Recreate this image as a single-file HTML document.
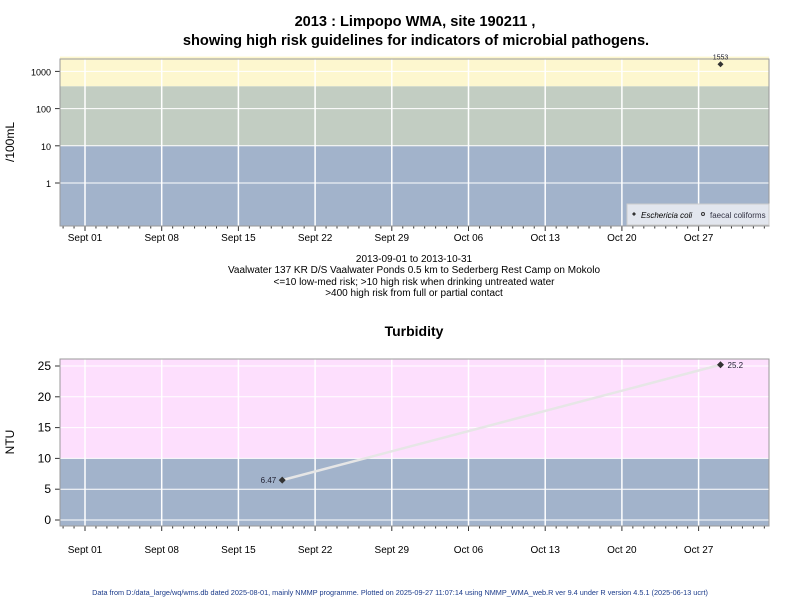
<!DOCTYPE html>
<html><head><meta charset="utf-8"><style>
body{margin:0;background:#fff;}
svg{display:block;font-family:"Liberation Sans",sans-serif;}
</style></head><body>
<svg id="c" width="800" height="600">
<text x="415" y="26" text-anchor="middle" font-size="14.6" font-weight="bold">2013 : Limpopo WMA, site 190211 ,</text>
<text x="416" y="45" text-anchor="middle" font-size="14.6" font-weight="bold">showing high risk guidelines for indicators of microbial pathogens.</text>
<text x="414" y="262" text-anchor="middle" font-size="10">2013-09-01 to 2013-10-31</text>
<text x="414" y="273" text-anchor="middle" font-size="10">Vaalwater 137 KR D/S Vaalwater Ponds 0.5 km to Sederberg Rest Camp on Mokolo</text>
<text x="414" y="285" text-anchor="middle" font-size="10">&lt;=10 low-med risk; &gt;10 high risk when drinking untreated water</text>
<text x="414" y="296" text-anchor="middle" font-size="10">&gt;400 high risk from full or partial contact</text>
<text x="414" y="336" text-anchor="middle" font-size="14" font-weight="bold">Turbidity</text>
<text x="14" y="142" text-anchor="middle" font-size="12" transform="rotate(-90 14 142)">/100mL</text>
<text x="14" y="442" text-anchor="middle" font-size="12" transform="rotate(-90 14 442)">NTU</text>
<text x="400" y="595" text-anchor="middle" font-size="7.3" fill="#1a3a8a">Data from D:/data_large/wq/wms.db dated 2025-08-01, mainly NMMP programme. Plotted on 2025-09-27 11:07:14 using NMMP_WMA_web.R ver 9.4 under R version 4.5.1 (2025-06-13 ucrt)</text>
<g id="p1"></g><g id="p2"></g>
</svg>
<script>
const xTickLabels=["Sept 01","Sept 08","Sept 15","Sept 22","Sept 29","Oct 06","Oct 13","Oct 20","Oct 27"];
const ecoliDays=[58];          // days after Sept 01
const ecoliValues=[1553];
const turbDays=[18,58];
const turbValues=[6.47,25.2];
const turbLabels=["6.47","25.2"];
const logTicks=[1,10,100,1000];
const turbTicks=[0,5,10,15,20,25];

const NS="http://www.w3.org/2000/svg";
function el(p,t,a){const e=document.createElementNS(NS,t);for(const k in a)e.setAttribute(k,a[k]);p.appendChild(e);return e;}
const L=60,R=769;
const xs=d=>85+d*(76.7/7);

function frame(g,top,bot,ys,bands,ticks,tickFmt,labelY){
  for(const b of bands){
    const r=el(g,'rect',{x:L,y:ys(b[1]),width:R-L,height:ys(b[0])-ys(b[1]),fill:b[2]});
    
    
  }
  for(let i=0;i<xTickLabels.length;i++){
    const x=xs(i*7);
    el(g,'line',{x1:x,x2:x,y1:top,y2:bot,stroke:'#fff','stroke-width':1.5});
    el(g,'line',{x1:x,x2:x,y1:bot,y2:bot+5,stroke:'#333'});
    const t=el(g,'text',{x:x,y:labelY,'text-anchor':'middle','font-size':10});
    t.textContent=xTickLabels[i];
    
    
  }
  for(let d=-2;d<=62;d++){const x=xs(d);if(x>L&&x<R&&d%7)el(g,'line',{x1:x,x2:x,y1:bot,y2:bot+2.5,stroke:'#333'});}
  for(const v of ticks){
    const y=ys(v);
    el(g,'line',{x1:L,x2:R,y1:y,y2:y,stroke:'#fff','stroke-width':1});
    el(g,'line',{x1:L-5,x2:L,y1:y,y2:y,stroke:'#333'});
    const t=el(g,'text',{x:L-9,y:y+4,'text-anchor':'end','font-size':tickFmt});
    t.textContent=v;
    
    
  }
  el(g,'rect',{x:L,y:top,width:R-L,height:bot-top,fill:'none',stroke:'#999'});
}

// panel 1 (log)
const g1=document.getElementById('p1');
const ys1=v=>183-Math.log10(v)*37.2;
frame(g1,59,226,ys1,[[0.069,10,'#a2b3cb','low-risk-band'],[10,400,'#c2cdc2','drinking-risk-band'],[400,2500,'#fdf7cf','contact-risk-band']],logTicks,9,241);
for(let i=0;i<ecoliValues.length;i++){
  const x=xs(ecoliDays[i]),y=ys1(ecoliValues[i]);
  const p=el(g1,'path',{d:`M${x} ${y-3}L${x+3} ${y}L${x} ${y+3}L${x-3} ${y}Z`,fill:'#333'});
  
  
  const t=el(g1,'text',{x:x,y:y-5,'text-anchor':'middle','font-size':7,fill:'#223'});t.textContent=ecoliValues[i];
}
const lg=el(g1,'g',{});


el(lg,'rect',{x:627,y:204,width:142,height:21,fill:'#e2e6ee',stroke:'#ccc'});
el(lg,'path',{d:'M634 212L636 214L634 216L632 214Z',fill:'#333'});
let t=el(lg,'text',{x:641,y:218,'font-size':8,'font-style':'italic'});t.textContent='Eschericia coli';
el(lg,'circle',{cx:703,cy:214,r:1.5,fill:'none',stroke:'#333'});
t=el(lg,'text',{x:710,y:218,'font-size':8,fill:'#334'});t.textContent='faecal coliforms';

// panel 2
const g2=document.getElementById('p2');
const ys2=v=>520-v*6.16;
frame(g2,359,526,ys2,[[-1,10,'#a2b3cb','turbidity-low-band'],[10,26.2,'#fddffd','turbidity-high-band']],turbTicks,12,553);
let d='';
for(let i=0;i<turbValues.length;i++)d+=(i?'L':'M')+xs(turbDays[i])+' '+ys2(turbValues[i]);
const ln=el(g2,'path',{d:d,stroke:'#e6e6e6','stroke-width':2.5,fill:'none'});


for(let i=0;i<turbValues.length;i++){
  const x=xs(turbDays[i]),y=ys2(turbValues[i]);
  const p=el(g2,'path',{d:`M${x} ${y-3.5}L${x+3.5} ${y}L${x} ${y+3.5}L${x-3.5} ${y}Z`,fill:'#333'});
  
  
  const last=i===turbValues.length-1;
  const tt=el(g2,'text',{x:last?x+7:x-6,y:y+3,'text-anchor':last?'start':'end','font-size':8,fill:'#223'});
  tt.textContent=turbLabels[i];
}
</script>
</body></html>
